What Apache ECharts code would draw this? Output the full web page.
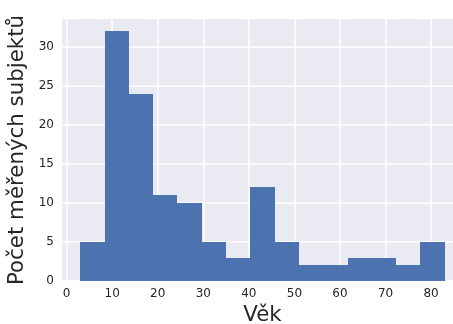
<!DOCTYPE html>
<html>
<head>
<meta charset="utf-8">
<script src="https://cdn.jsdelivr.net/npm/echarts@6/dist/echarts.min.js"></script>
<style>
html,body{margin:0;padding:0;background:#fff;}
#c{width:453px;height:324px;}
</style>
</head>
<body>
<div id="c"></div>
<script>
// Histogram: age bins (15 equal bins from 3 to 83) and counts
const binStart = 3;
const binEnd = 83;
const counts = [5, 32, 24, 11, 10, 5, 3, 12, 5, 2, 2, 3, 3, 2, 5];
const xTicks = [0, 10, 20, 30, 40, 50, 60, 70, 80];
const yTicks = [0, 5, 10, 15, 20, 25, 30];
const xLabel = 'Věk';
const yLabel = 'Počet měřených subjektů';

const binWidth = (binEnd - binStart) / counts.length;
const histData = counts.map((c, i) => [binStart + i * binWidth, binStart + (i + 1) * binWidth, c]);

const chart = echarts.init(document.getElementById('c'), null, {renderer: 'canvas'});
const labelStyle = {color: '#262626', fontSize: 12, fontFamily: 'DejaVu Sans'};
chart.setOption({
  animation: false,
  backgroundColor: '#ffffff',
  grid: {left: 62, top: 19, bottom: 43, right: -10, containLabel: false, outerBoundsMode: 'none',
         show: true, backgroundColor: '#EAEAF2', borderWidth: 0},
  xAxis: {
    type: 'value', min: -1, max: 87,
    axisLine: {show: false},
    axisTick: {show: false, customValues: xTicks},
    axisLabel: Object.assign({customValues: xTicks, margin: 7}, labelStyle),
    splitLine: {show: true, lineStyle: {color: '#ffffff', width: 1.5}},
    name: xLabel, nameLocation: 'middle', nameGap: 24,
    nameTextStyle: {color: '#262626', fontSize: 21.33, fontFamily: 'DejaVu Sans'}
  },
  yAxis: {
    type: 'value', min: 0, max: 33.6,
    axisLine: {show: false},
    axisTick: {show: false, customValues: yTicks},
    axisLabel: Object.assign({customValues: yTicks, margin: 8}, labelStyle),
    splitLine: {show: true, lineStyle: {color: '#ffffff', width: 1.5}},
    name: yLabel, nameLocation: 'middle', nameGap: 26,
    nameTextStyle: {color: '#262626', fontSize: 21.33, fontFamily: 'DejaVu Sans'}
  },
  series: [{
    type: 'custom',
    data: histData,
    renderItem: function (params, api) {
      const p0 = api.coord([api.value(0), api.value(2)]);
      const p1 = api.coord([api.value(1), 0]);
      const x0 = Math.round(p0[0]), x1 = Math.round(p1[0]);
      const y0 = Math.round(p0[1]), y1 = Math.round(p1[1]);
      return {
        type: 'rect',
        shape: {x: x0, y: y0, width: x1 - x0, height: y1 - y0},
        style: {fill: '#4C72B0'}
      };
    },
    encode: {x: [0, 1], y: 2}
  }]
});
</script>
</body>
</html>
